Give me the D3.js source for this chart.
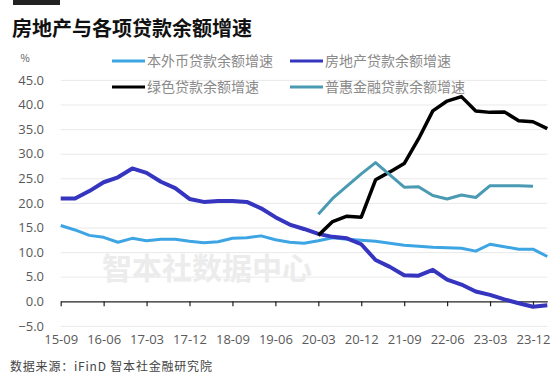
<!DOCTYPE html>
<html>
<head>
<meta charset="utf-8">
<script src="https://cdn.jsdelivr.net/npm/d3@7"></script>
<style>
  body { margin: 0; background: #fff; }
  #chart { width: 554px; height: 376px; }
  text { font-family: "Noto Sans CJK SC", "Noto Sans", sans-serif; }
</style>
</head>
<body>
<div id="chart"></div>
<script>
// quarterly categories 15-09 .. 24-03
const quarters = ["15-09","15-12","16-03","16-06","16-09","16-12","17-03","17-06","17-09","17-12",
  "18-03","18-06","18-09","18-12","19-03","19-06","19-09","19-12","20-03","20-06",
  "20-09","20-12","21-03","21-06","21-09","21-12","22-03","22-06","22-09","22-12",
  "23-03","23-06","23-09","23-12","24-03"];
const tickLabels = ["15-09","16-06","17-03","17-12","18-09","19-06","20-03","20-12","21-09","22-06","23-03","23-12"];
const yTicks = [-5, 0, 5, 10, 15, 20, 25, 30, 35, 40, 45];

// 本外币贷款余额增速
const totalLoans = [15.4,14.5,13.4,13.0,12.0,12.8,12.3,12.6,12.6,12.2,
  11.9,12.1,12.8,12.9,13.3,12.5,12.0,11.8,12.3,12.9,
  12.6,12.4,12.2,11.8,11.4,11.2,11.0,10.9,10.8,10.2,
  11.6,11.1,10.6,10.6,9.1];
// 房地产贷款余额增速
const realEstate = [20.9,20.9,22.4,24.2,25.2,27.0,26.1,24.3,23.0,20.8,
  20.2,20.4,20.4,20.2,18.9,17.1,15.6,14.7,13.7,13.1,
  12.8,11.6,8.4,7.0,5.3,5.2,6.4,4.4,3.4,2.0,
  1.3,0.4,-0.4,-1.1,-0.8];
// 绿色贷款余额增速 (from 20-03)
const greenStart = 18;
const greenLoans = [13.4,16.2,17.3,17.1,24.7,26.3,28.0,33.0,38.7,40.7,41.6,38.7,38.4,38.5,36.7,36.5,35.1];
// 普惠金融贷款余额增速 (20-03 .. 23-12)
const inclusiveStart = 18;
const inclusiveLoans = [17.7,20.9,23.4,25.9,28.2,25.7,23.2,23.3,21.5,20.8,21.6,21.1,23.5,23.5,23.5,23.4];

const series = [
  { name: "本外币贷款余额增速", values: totalLoans, start: 0, color: "#3da5e4", width: 3 },
  { name: "房地产贷款余额增速", values: realEstate, start: 0, color: "#3535c0", width: 4 },
  { name: "绿色贷款余额增速", values: greenLoans, start: greenStart, color: "#000000", width: 3.5 },
  { name: "普惠金融贷款余额增速", values: inclusiveLoans, start: inclusiveStart, color: "#4b9ab3", width: 3 }
];

const width = 554, height = 376;
const left = 60.7, right = 547.3;

const svg = d3.select("#chart").append("svg")
  .attr("width", width)
  .attr("height", height);

const x = d3.scalePoint().domain(quarters).range([left, right]);
const y = d3.scaleLinear().domain([-5, 45]).range([325.9, 79.9]);

// title
svg.append("rect").attr("x", 13).attr("y", 0).attr("width", 47).attr("height", 5).attr("fill", "#222");
svg.append("text")
  .attr("x", 12).attr("y", 36)
  .style("font-size", "20px")
  .style("font-weight", "bold")
  .attr("fill", "#111")
  .text("房地产与各项贷款余额增速");

// grid
svg.append("g")
  .attr("transform", `translate(${left},0)`)
  .call(d3.axisRight(y).tickValues(yTicks.filter(d => d !== 0)).tickSize(right - left).tickFormat(""))
  .call(g => g.select(".domain").remove())
  .call(g => g.selectAll("line").attr("stroke", "#e9e9e9").attr("stroke-width", 1));

// y labels
svg.append("g")
  .attr("transform", "translate(44,0)")
  .call(d3.axisLeft(y).tickValues(yTicks).tickSize(0).tickPadding(0).tickFormat(d3.format(".1f")))
  .call(g => g.select(".domain").remove())
  .call(g => g.selectAll("text")
    .attr("fill", "#595959")
    .style("font-size", "13px")
    .style("font-family", "'Open Sans', 'Noto Sans', sans-serif"));

svg.append("text")
  .attr("x", 25).attr("y", 62)
  .attr("text-anchor", "middle")
  .attr("fill", "#595959")
  .style("font-size", "10px")
  .text("%");

// watermark
svg.append("text")
  .attr("x", 207).attr("y", 279)
  .attr("text-anchor", "middle")
  .attr("fill", "#ececec")
  .style("font-size", "30px")
  .style("font-weight", "bold")
  .text("智本社数据中心");

// zero axis with ticks
svg.append("g")
  .attr("transform", `translate(0,${y(0)})`)
  .call(d3.axisBottom(x).tickValues(tickLabels).tickSize(5).tickSizeOuter(0).tickFormat(""))
  .call(g => g.select(".domain").attr("stroke", "#222").attr("stroke-width", 1.2))
  .call(g => g.selectAll("line").attr("stroke", "#222").attr("stroke-width", 1.2));

// x labels
svg.append("g")
  .attr("transform", `translate(0,${y(-5) + 9})`)
  .call(d3.axisBottom(x).tickValues(tickLabels).tickSize(0).tickPadding(0))
  .call(g => g.select(".domain").remove())
  .call(g => g.selectAll("text")
    .attr("fill", "#595959")
    .style("font-size", "13px")
    .style("font-family", "'Open Sans', 'Noto Sans', sans-serif"));

// lines
const line = d3.line()
  .x(d => x(d.q))
  .y(d => y(d.v));

series.forEach(s => {
  const pts = s.values.map((v, i) => ({ q: quarters[s.start + i], v }));
  svg.append("path")
    .datum(pts)
    .attr("fill", "none")
    .attr("stroke", s.color)
    .attr("stroke-width", s.width)
    .attr("stroke-linejoin", "round")
    .attr("d", line);
});

// legend
const legendPos = [[112, 61], [290, 61], [112, 87], [290, 87]];
series.forEach((s, i) => {
  const [lx, ly] = legendPos[i];
  svg.append("line")
    .attr("x1", lx).attr("x2", lx + 33)
    .attr("y1", ly).attr("y2", ly)
    .attr("stroke", s.color)
    .attr("stroke-width", 3);
  svg.append("text")
    .attr("x", lx + 35).attr("y", ly)
    .attr("dy", "0.35em")
    .attr("fill", "#8a8a8a")
    .style("font-size", "14px")
    .text(s.name);
});

// source
svg.append("text")
  .attr("x", 10).attr("y", 371)
  .attr("fill", "#444")
  .style("font-size", "12px")
  .style("letter-spacing", "0.8px")
  .text("数据来源：iFinD 智本社金融研究院");
</script>
</body>
</html>
